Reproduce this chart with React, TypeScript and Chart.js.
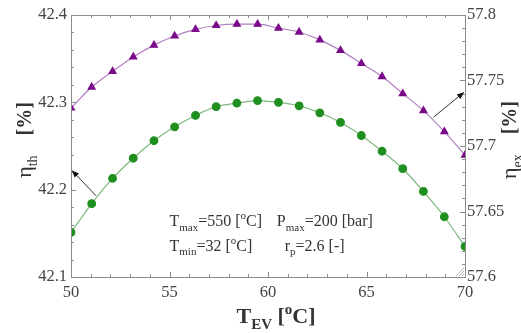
import React, { useEffect, useRef } from 'react';
import { Chart, registerables } from 'chart.js';
Chart.register(...registerables);

// ---- data ----
const tev = [50, 51.05, 52.11, 53.16, 54.21, 55.26, 56.32, 57.37, 58.42, 59.47, 60.53, 61.58, 62.63, 63.68, 64.74, 65.79, 66.84, 67.89, 68.95, 70];
const etaTh = [42.151, 42.184, 42.213, 42.236, 42.256, 42.272, 42.285, 42.295, 42.299, 42.302, 42.300, 42.296, 42.288, 42.277, 42.262, 42.244, 42.224, 42.198, 42.169, 42.135];
const etaEx = [57.729, 57.745, 57.757, 57.768, 57.777, 57.784, 57.789, 57.792, 57.793, 57.793, 57.790, 57.787, 57.781, 57.773, 57.763, 57.753, 57.740, 57.727, 57.711, 57.693];
const xRange = [50, 70];
const yLeftRange = [42.1, 42.4];
const yRightRange = [57.6, 57.8];
const xStep = 5;
const yLeftStep = 0.1;
const yRightStep = 0.05;

type Run = { t: string; s?: 'sub' | 'sup'; b?: boolean; k?: number };
const noteLines: { x: number; y: number; runs: Run[] }[] = [
  { x: 55.0, y: 42.164, runs: [{ t: 'T' }, { t: 'max', s: 'sub' }, { t: '=550 [' }, { t: 'o', s: 'sup' }, { t: 'C]' }] },
  { x: 60.45, y: 42.164, runs: [{ t: 'P' }, { t: 'max', s: 'sub' }, { t: '=200 [bar]' }] },
  { x: 55.0, y: 42.136, runs: [{ t: 'T' }, { t: 'min', s: 'sub' }, { t: '=32 [' }, { t: 'o', s: 'sup' }, { t: 'C]' }] },
  { x: 60.85, y: 42.136, runs: [{ t: 'r' }, { t: 'p', s: 'sub' }, { t: '=2.6 [-]' }] },
];
const leftTitle: Run[] = [{ t: 'η', k: 1.1 }, { t: 'th', s: 'sub' }, { t: '    [%]', b: true }];
const rightTitle: Run[] = [{ t: 'η', k: 1.1 }, { t: 'ex', s: 'sub' }, { t: '    [%]', b: true }];
const xTitle: Run[] = [{ t: 'T', b: true }, { t: 'EV', s: 'sub', b: true }, { t: ' [', b: true }, { t: 'o', s: 'sup', b: true }, { t: 'C]', b: true }];

const FONT = '"Liberation Serif", "Times New Roman", serif';

function runFont(r: Run, size: number) {
  const sz = r.s ? Math.round(size * 0.7) : size * (r.k || 1);
  return `${r.b ? 'bold ' : ''}${sz}px ${FONT}`;
}
function measureRuns(ctx: CanvasRenderingContext2D, runs: Run[], size: number) {
  let w = 0;
  for (const r of runs) { ctx.font = runFont(r, size); w += ctx.measureText(r.t).width; }
  return w;
}
function drawRuns(ctx: CanvasRenderingContext2D, runs: Run[], x: number, y: number, size: number, color: string) {
  ctx.fillStyle = color;
  ctx.textBaseline = 'alphabetic';
  ctx.textAlign = 'left';
  let cx = x;
  for (const r of runs) {
    ctx.font = runFont(r, size);
    const dy = r.s === 'sub' ? size * 0.28 : r.s === 'sup' ? -size * 0.42 : 0;
    ctx.fillText(r.t, cx, y + dy);
    cx += ctx.measureText(r.t).width;
  }
}
function arrow(ctx: CanvasRenderingContext2D, x1: number, y1: number, x2: number, y2: number) {
  ctx.strokeStyle = '#333';
  ctx.fillStyle = '#111';
  ctx.lineWidth = 1;
  ctx.beginPath(); ctx.moveTo(x1, y1); ctx.lineTo(x2, y2); ctx.stroke();
  const a = Math.atan2(y2 - y1, x2 - x1);
  const L = 7, W = 3;
  ctx.beginPath();
  ctx.moveTo(x2, y2);
  ctx.lineTo(x2 - L * Math.cos(a) + W * Math.sin(a), y2 - L * Math.sin(a) - W * Math.cos(a));
  ctx.lineTo(x2 - L * Math.cos(a) - W * Math.sin(a), y2 - L * Math.sin(a) + W * Math.cos(a));
  ctx.closePath(); ctx.fill();
}

const decor = {
  id: 'decor',
  afterDraw(chart: any) {
    const ctx: CanvasRenderingContext2D = chart.ctx;
    const { left, right, top, bottom } = chart.chartArea;
    const sx = chart.scales.x, sl = chart.scales.y, sr = chart.scales.y2;
    ctx.save();
    // frame
    ctx.strokeStyle = '#8c8c8c';
    ctx.lineWidth = 1;
    ctx.strokeRect(Math.round(left) + 0.5, Math.round(top) + 0.5, Math.round(right - left), Math.round(bottom - top));
    // inward ticks
    ctx.beginPath();
    for (let v = xRange[0]; v <= xRange[1] + 1e-9; v += 1) {
      const p = Math.round(sx.getPixelForValue(v)) + 0.5;
      const len = Math.abs(v % 5) < 1e-6 ? 5 : 3;
      ctx.moveTo(p, bottom); ctx.lineTo(p, bottom - len);
      ctx.moveTo(p, top); ctx.lineTo(p, top + len);
    }
    for (let i = 0; i <= 15; i++) {
      const v = yLeftRange[0] + i * 0.02;
      const p = Math.round(sl.getPixelForValue(v)) + 0.5;
      const len = i % 5 === 0 ? 5 : 3;
      ctx.moveTo(left, p); ctx.lineTo(left + len, p);
    }
    for (let i = 0; i <= 20; i++) {
      const v = yRightRange[0] + i * 0.01;
      const p = Math.round(sr.getPixelForValue(v)) + 0.5;
      const len = i % 5 === 0 ? 5 : 3;
      ctx.moveTo(right, p); ctx.lineTo(right - len, p);
    }
    ctx.stroke();
    // corner hatch
    ctx.strokeStyle = '#b0b0b0';
    ctx.beginPath();
    for (let k = 3; k <= 9; k += 3) {
      ctx.moveTo(right - k, bottom - 1); ctx.lineTo(right - 1, bottom - k);
    }
    ctx.stroke();
    // arrows
    arrow(ctx, sx.getPixelForValue(51.27), sl.getPixelForValue(42.193), sx.getPixelForValue(50.05), sl.getPixelForValue(42.222));
    arrow(ctx, sx.getPixelForValue(68.4), sr.getPixelForValue(57.722), sx.getPixelForValue(69.95), sr.getPixelForValue(57.741));
    // notes
    for (const n of noteLines) {
      drawRuns(ctx, n.runs, sx.getPixelForValue(n.x), sl.getPixelForValue(n.y) + 5, 16, '#333');
    }
    // titles
    const tsize = 20;
    ctx.save();
    ctx.translate(31, (top + bottom) / 2 - 6);
    ctx.rotate(-Math.PI / 2);
    drawRuns(ctx, leftTitle, -measureRuns(ctx, leftTitle, tsize) / 2, 0, tsize, '#333');
    ctx.restore();
    ctx.save();
    ctx.translate(516, (top + bottom) / 2 - 6);
    ctx.rotate(-Math.PI / 2);
    drawRuns(ctx, rightTitle, -measureRuns(ctx, rightTitle, tsize) / 2, 0, tsize, '#333');
    ctx.restore();
    const xs = 22;
    drawRuns(ctx, xTitle, (left + right) / 2 + 8 - measureRuns(ctx, xTitle, xs) / 2, 323, xs, '#333');
    ctx.restore();
  },
};

export default function App() {
  const ref = useRef<HTMLCanvasElement | null>(null);
  useEffect(() => {
    if (!ref.current) return;
    const tickFont = { family: FONT, size: 16.5 };
    const chart = new Chart(ref.current, {
      type: 'line',
      data: {
        datasets: [
          {
            label: 'eta_th',
            data: tev.map((x, i) => ({ x, y: etaTh[i] })),
            yAxisID: 'y',
            borderColor: '#7fb77f',
            borderWidth: 1.2,
            pointBackgroundColor: '#1f8f1f',
            pointBorderColor: '#1f8f1f',
            pointRadius: 3.8,
            pointStyle: 'circle',
            cubicInterpolationMode: 'monotone',
          },
          {
            label: 'eta_ex',
            data: tev.map((x, i) => ({ x, y: etaEx[i] })),
            yAxisID: 'y2',
            borderColor: '#b07fc0',
            borderWidth: 1.2,
            pointBackgroundColor: '#7a0a8a',
            pointBorderColor: '#7a0a8a',
            pointRadius: 4,
            pointStyle: 'triangle',
            cubicInterpolationMode: 'monotone',
          },
        ],
      },
      options: {
        animation: false,
        responsive: false,
        layout: { padding: { top: 15, left: 0, right: 0, bottom: 0 } },
        plugins: { legend: { display: false }, tooltip: { enabled: false } },
        scales: {
          x: {
            type: 'linear',
            min: xRange[0], max: xRange[1],
            ticks: { stepSize: xStep, font: tickFont, color: '#444', padding: 6, maxRotation: 0 },
            grid: { display: false, drawTicks: false },
            border: { display: false },
            afterFit: (s: any) => { s.height = 56; },
          },
          y: {
            position: 'left',
            min: yLeftRange[0], max: yLeftRange[1],
            ticks: { stepSize: yLeftStep, font: tickFont, color: '#444', padding: 4, callback: (v: any) => Number(v).toFixed(1) },
            grid: { display: false, drawTicks: false },
            border: { display: false },
            afterFit: (s: any) => { s.width = 71; },
          },
          y2: {
            position: 'right',
            min: yRightRange[0], max: yRightRange[1],
            ticks: { stepSize: yRightStep, font: tickFont, color: '#444', padding: 2, callback: (v: any) => String(Number(Number(v).toFixed(2))) },
            grid: { display: false, drawTicks: false },
            border: { display: false },
            afterFit: (s: any) => { s.width = 56; },
          },
        },
      },
      plugins: [decor],
    } as any);
    return () => chart.destroy();
  }, []);
  return (
    <div style={{ position: 'fixed', left: 0, top: 0, width: 521, height: 333, background: '#fff' }}>
      <canvas ref={ref} width={521} height={333} style={{ width: 521, height: 333, display: 'block' }} />
    </div>
  );
}
